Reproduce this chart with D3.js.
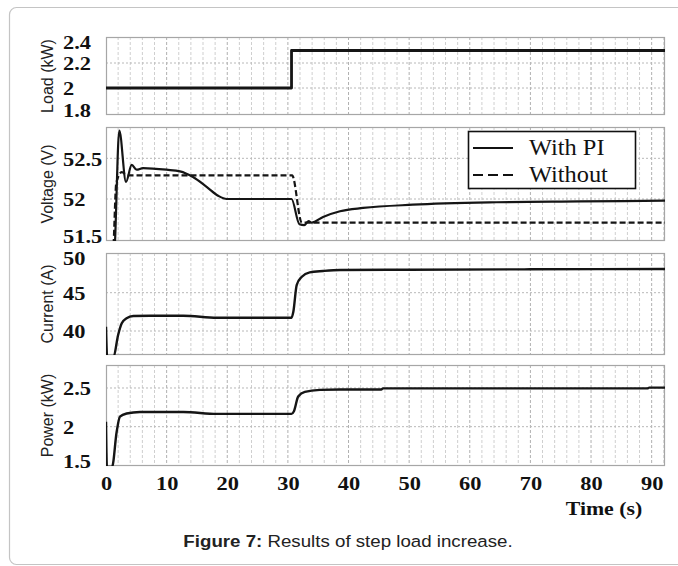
<!DOCTYPE html>
<html>
<head>
<meta charset="utf-8">
<script src="https://cdn.jsdelivr.net/npm/d3@7"></script>
<style>
  html, body { margin: 0; padding: 0; background: #fff; }
  svg { display: block; }
  .serif { font-family: "Liberation Serif", "Times New Roman", serif; }
  .sans { font-family: "Liberation Sans", Arial, sans-serif; }
</style>
</head>
<body>
<svg id="chart" width="678" height="566"></svg>
<script>
// time axis ticks (s)
const timeTicks = [0, 10, 20, 30, 40, 50, 60, 70, 80, 90];

// load (kW)
const loadT = [0, 30.6, 30.6, 92.2];
const loadV = [2.0, 2.0, 2.3, 2.3];
const loadTicks = [1.8, 2, 2.2, 2.4];

// bus voltage (V), with PI controller and without
const voltPiT = [0, 1.3, 2.19, 3.3, 4.24, 5.06, 6.1, 10, 12.2, 14.35, 16.6, 18.5, 19.9, 30.6, 31.9, 32.7, 33.4, 33.9, 35.8, 38.6, 42.4, 50.6, 64.4, 78.2, 92.2];
const voltPiV = [51.3, 51.3, 52.84, 52.21, 52.42, 52.36, 52.38, 52.36, 52.34, 52.27, 52.15, 52.04, 52.0, 52.0, 51.69, 51.68, 51.73, 51.71, 51.78, 51.85, 51.89, 51.93, 51.96, 51.97, 51.98];
const voltNoT = [0, 1.1, 1.7, 2.6, 3.6, 30.7, 32.3, 92.2];
const voltNoV = [51.3, 51.3, 52.2, 52.33, 52.29, 52.29, 51.71, 51.71];
const voltTicks = [51.5, 52, 52.5];

// current (A)
const currT = [0, 0.2, 1.2, 2.0, 2.6, 3.4, 4.5, 7.3, 12.75, 18.3, 30.6, 30.9, 31.45, 32.3, 33.6, 35.8, 38.6, 50, 70, 92.2];
const currV = [40.56, 36.5, 36.5, 39.48, 41.0, 41.66, 41.96, 42.0, 42.0, 41.74, 41.74, 42.52, 46.0, 47.09, 47.66, 47.83, 47.96, 48.0, 48.05, 48.1];
const currTicks = [40, 45, 50];

// power (kW)
const powT = [0, 0.15, 1.0, 1.76, 2.3, 3.4, 5.6, 12.75, 18.3, 30.6, 31.0, 31.7, 32.8, 35.3, 38.6, 45.4, 45.7, 89.3, 89.6, 92.2];
const powV = [2.065, 1.48, 1.48, 1.935, 2.13, 2.17, 2.19, 2.19, 2.165, 2.165, 2.2, 2.39, 2.45, 2.475, 2.48, 2.48, 2.495, 2.495, 2.505, 2.505];
const powTicks = [1.5, 2, 2.5];

const legendLabels = ['With PI', 'Without'];

const SX = 1.18; // horizontal stretch of the figure's serif labels
const svg = d3.select('#chart');
const left = 106, right = 665;

// outer frame
svg.append('rect')
  .attr('x', 9.5).attr('y', 7.5).attr('width', 720).attr('height', 557)
  .attr('rx', 7).attr('fill', 'none').attr('stroke', '#c4c4c4').attr('stroke-width', 1.2);

const x = d3.scaleLinear().domain([0, 92.2]).range([left, right]);

const zip = (t, v) => t.map((d, i) => ({ t: d, v: v[i] }));

const panels = [
  { title: 'Load (kW)', top: 37, bottom: 115, domain: [1.784, 2.408], ticks: loadTicks,
    series: [{ data: zip(loadT, loadV), dash: null, width: 2.8, curve: d3.curveLinear }] },
  { title: 'Voltage (V)', top: 127, bottom: 241, domain: [51.484, 52.885], ticks: voltTicks,
    series: [
      { data: zip(voltNoT, voltNoV), dash: '6,3', width: 2.2, curve: d3.curveMonotoneX },
      { data: zip(voltPiT, voltPiV), dash: null, width: 2.2, curve: d3.curveMonotoneX }
    ] },
  { title: 'Current (A)', top: 253, bottom: 355, domain: [36.87, 50.18], ticks: currTicks,
    series: [{ data: zip(currT, currV), dash: null, width: 2.4, curve: d3.curveMonotoneX }] },
  { title: 'Power (kW)', top: 365, bottom: 466, domain: [1.492, 2.797], ticks: powTicks,
    series: [{ data: zip(powT, powV), dash: null, width: 2.4, curve: d3.curveMonotoneX }] }
];

panels.forEach((p, pi) => {
  const y = d3.scaleLinear().domain(p.domain).range([p.bottom, p.top]);
  const g = svg.append('g');
  const clipId = 'clip' + pi;
  svg.append('clipPath').attr('id', clipId)
    .append('rect').attr('x', left).attr('y', p.top).attr('width', right - left).attr('height', p.bottom - p.top);

  // vertical grid every 2 s, darker every 10 s
  g.selectAll('line.vg')
    .data(d3.range(2, 92.2, 2))
    .enter().append('line')
    .attr('x1', d => x(d)).attr('x2', d => x(d))
    .attr('y1', p.top).attr('y2', p.bottom)
    .attr('stroke', d => d % 10 === 0 ? '#b0b0b0' : '#cfcfcf')
    .attr('stroke-width', 1)
    .attr('stroke-dasharray', '3,2');

  // horizontal grid at ticks
  g.selectAll('line.hg')
    .data(p.ticks.filter(v => y(v) > p.top + 2 && y(v) < p.bottom - 2))
    .enter().append('line')
    .attr('x1', left).attr('x2', right)
    .attr('y1', d => y(d)).attr('y2', d => y(d))
    .attr('stroke', '#b8b8b8').attr('stroke-width', 1)
    .attr('stroke-dasharray', '2,2');

  // plot border
  g.append('rect')
    .attr('x', left + 0.5).attr('y', p.top + 0.5)
    .attr('width', right - left - 1).attr('height', p.bottom - p.top - 1)
    .attr('fill', 'none').attr('stroke', '#a6a6a6').attr('stroke-width', 1.2);

  // y axis labels
  const ax = g.append('g').attr('transform', `translate(${left},0)`)
    .call(d3.axisLeft(y).tickValues(p.ticks).tickSize(0).tickFormat(d3.format('~g')));
  ax.attr('font-family', null).attr('font-size', null);
  ax.select('.domain').remove();
  ax.selectAll('.tick').each(function (v) {
    const yy = y(v);
    const cy = Math.max(p.top + 5, Math.min(p.bottom - 5, yy));
    d3.select(this).select('text')
      .attr('class', 'serif')
      .attr('x', (63 - left) / SX)
      .attr('y', cy - yy)
      .attr('dy', '0.36em')
      .attr('text-anchor', 'start')
      .attr('transform', `scale(${SX},1)`)
      .style('font-family', '"Liberation Serif", "Times New Roman", serif')
      .style('font-weight', 'bold')
      .style('font-size', '19px')
      .attr('fill', '#111');
  });

  // y title
  g.append('text')
    .attr('class', 'sans')
    .attr('transform', `translate(53,${(p.top + p.bottom) / 2}) rotate(-90)`)
    .attr('text-anchor', 'middle')
    .style('font-size', '16px')
    .attr('fill', '#222')
    .text(p.title);

  // series
  const plot = g.append('g').attr('clip-path', `url(#${clipId})`);
  p.series.forEach(s => {
    const line = d3.line().x(d => x(d.t)).y(d => y(d.v)).curve(s.curve);
    plot.append('path')
      .datum(s.data)
      .attr('fill', 'none')
      .attr('stroke', '#151515')
      .attr('stroke-width', s.width)
      .attr('stroke-linejoin', 'round')
      .attr('stroke-dasharray', s.dash)
      .attr('d', line);
  });

  // legend in voltage panel
  if (pi === 1) {
    const lg = g.append('g');
    lg.append('rect')
      .attr('x', 468.5).attr('y', 131.5).attr('width', 167).attr('height', 57)
      .attr('fill', '#fff').attr('stroke', '#111').attr('stroke-width', 1.6);
    legendLabels.forEach((lab, i) => {
      const ly = 148 + i * 27;
      lg.append('line')
        .attr('x1', 473).attr('x2', 513).attr('y1', ly).attr('y2', ly)
        .attr('stroke', '#111').attr('stroke-width', 2.2)
        .attr('stroke-dasharray', i === 1 ? '10,5' : null);
      lg.append('text')
        .attr('class', 'serif')
        .attr('transform', `translate(529,${ly + 7}) scale(1.06,1)`)
        .style('font-size', '23px')
        .attr('fill', '#111')
        .text(lab);
    });
  }
});

// time axis
const xa = svg.append('g').attr('transform', `translate(0,466)`)
  .call(d3.axisBottom(x).tickValues(timeTicks).tickSize(0).tickFormat(d3.format('d')));
xa.attr('font-family', null).attr('font-size', null);
xa.select('.domain').remove();
xa.selectAll('.tick text')
  .attr('class', 'serif')
  .attr('y', 24).attr('dy', 0)
  .attr('transform', `scale(${SX},1)`)
  .style('font-family', '"Liberation Serif", "Times New Roman", serif')
  .style('font-weight', 'bold')
  .style('font-size', '19px')
  .attr('fill', '#111');

svg.append('text')
  .attr('class', 'serif')
  .attr('transform', `translate(604,515) scale(${SX},1)`)
  .attr('text-anchor', 'middle')
  .style('font-weight', 'bold')
  .style('font-size', '18.5px')
  .attr('fill', '#111')
  .text('Time (s)');

// caption
const cap = svg.append('text')
  .attr('class', 'sans')
  .attr('transform', 'translate(348,547) scale(1.1,1)')
  .attr('text-anchor', 'middle')
  .style('font-size', '17px')
  .attr('fill', '#222');
cap.append('tspan').style('font-weight', 'bold').text('Figure 7:');
cap.append('tspan').text(' Results of step load increase.');
</script>
</body>
</html>
